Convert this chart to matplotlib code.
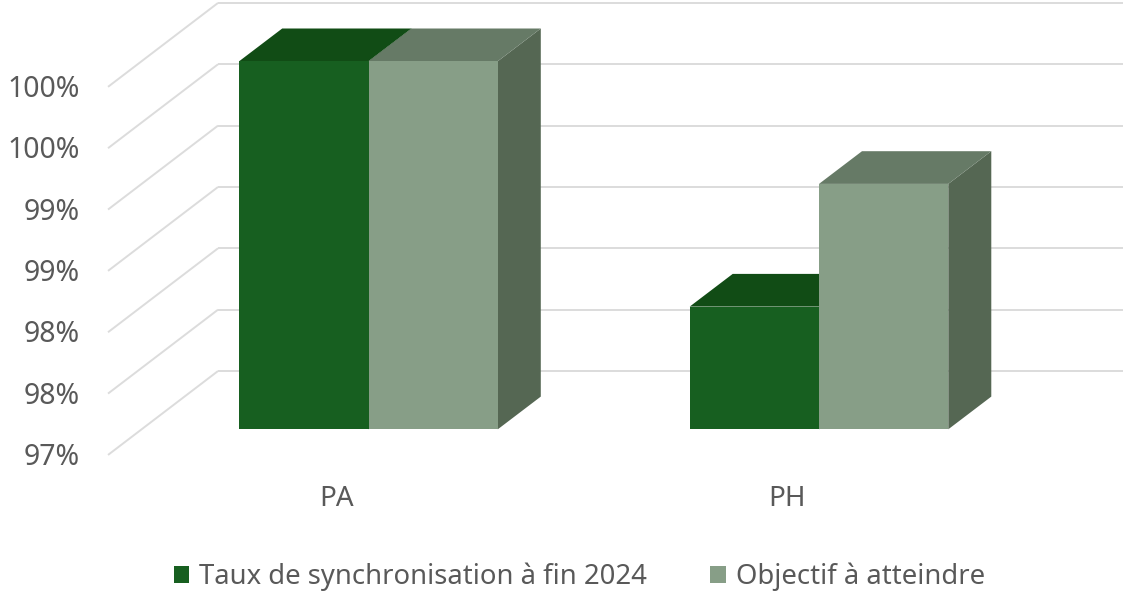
import matplotlib
matplotlib.use('Agg')
import matplotlib.pyplot as plt
from matplotlib.patches import Patch, Polygon

categories = ['PA', 'PH']
taux_sync = [100.0, 98.0]
objectif = [100.0, 99.0]
tick_values = [97.0, 97.5, 98.0, 98.5, 99.0, 99.5, 100.0]
tick_labels = ['97%', '98%', '98%', '99%', '99%', '100%', '100%']
legend_labels = ['Taux de synchronisation à fin 2024', 'Objectif à atteindre']

GREY = '#595959'
GRID = '#dcdcdc'
SYNC = ('#175f20', '#114c15', '#114c15')  # front, top, side
OBJ = ('#879e87', '#667a66', '#556753')

plt.rcParams['font.family'] = ['Noto Sans', 'DejaVu Sans']

fig = plt.figure(figsize=(11.23, 5.92), dpi=100)
ax = fig.add_axes([0, 0, 1, 1])
ax.set_xlim(-368.5 / 450.5, (1123 - 368.5) / 450.5)
ax.set_ylim(97 - (592 - 429.3) / 122.7, 97 + 429.3 / 122.7)
ax.axis('off')

# fake 3D offsets, in data units, relative to the plane of the bars
bar_w = 0.287
depth_x, depth_y = 43 / 450.5, 32.7 / 122.7
front_x, front_y = -0.0782, -0.209
back_x, back_y = 0.166, 0.475
x_start = -0.5

# walls
for v in tick_values:
    ax.plot([x_start + front_x, x_start + back_x], [v + front_y, v + back_y],
            color=GRID, lw=1.4, zorder=1, solid_capstyle='butt')
    ax.plot([x_start + back_x, ax.get_xlim()[1]], [v + back_y, v + back_y],
            color=GRID, lw=1.4, zorder=1, solid_capstyle='butt')


def draw_bar(x0, value, colors, z):
    x1 = x0 + bar_w
    front = [(x0, 97), (x1, 97), (x1, value), (x0, value)]
    top = [(x0, value), (x1, value), (x1 + depth_x, value + depth_y), (x0 + depth_x, value + depth_y)]
    side = [(x1, 97), (x1 + depth_x, 97 + depth_y), (x1 + depth_x, value + depth_y), (x1, value)]
    ax.add_patch(Polygon(side, closed=True, fc=colors[2], ec='none', zorder=z))
    ax.add_patch(Polygon(top, closed=True, fc=colors[1], ec='none', zorder=z))
    ax.add_patch(Polygon(front, closed=True, fc=colors[0], ec='none', zorder=z + 0.1))


for i in range(len(categories)):
    draw_bar(i - bar_w, taux_sync[i], SYNC, 2 + i)
    draw_bar(i, objectif[i], OBJ, 2.5 + i)
    ax.text(i - 0.072, 97 - 69.5 / 122.7, categories[i], color=GREY, fontsize=20,
            ha='center', va='center')

for v, lab in zip(tick_values, tick_labels):
    ax.text(x_start - 0.1415, v + front_y - 0.022, lab, color=GREY, fontsize=20.5,
            ha='right', va='center')

handles = [Patch(fc=SYNC[0], ec='none'), Patch(fc=OBJ[0], ec='none')]
ax.legend(handles, legend_labels, loc='center', bbox_to_anchor=(0.516, 0.0253), ncols=2,
          frameon=False, fontsize=19.8, labelcolor=GREY, handlelength=0.55, handleheight=0.55,
          handletextpad=0.38, columnspacing=2.3, borderpad=0, borderaxespad=0)

fig.savefig('out.png', dpi=100)
